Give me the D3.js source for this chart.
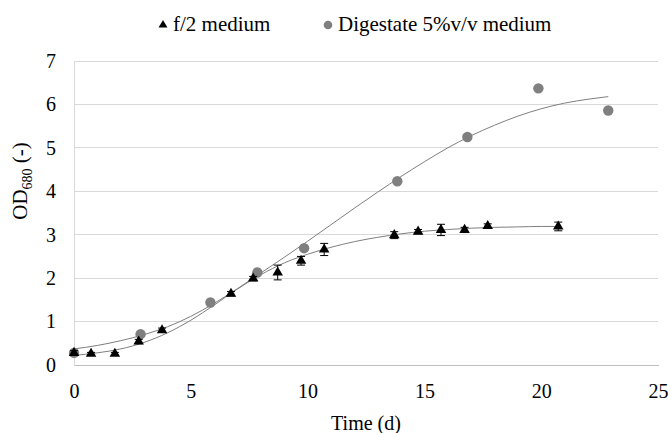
<!DOCTYPE html>
<html>
<head>
<meta charset="utf-8">
<script src="https://cdn.jsdelivr.net/npm/d3@7"></script>
<style>
  html, body { margin: 0; padding: 0; background: #fff; }
</style>
</head>
<body>
<svg id="chart" width="669" height="433"></svg>
<script>
// Growth of the culture in the two media (optical density at 680 nm)
const f2Days    = [0, 0.73, 1.75, 2.77, 3.77, 6.72, 7.67, 8.72, 9.72, 10.71, 13.71, 14.73, 15.71, 16.72, 17.71, 20.73];
const f2OD      = [0.28, 0.26, 0.26, 0.54, 0.80, 1.64, 1.99, 2.13, 2.40, 2.66, 2.99, 3.07, 3.11, 3.11, 3.20, 3.19];
const f2Err     = [0.05, 0.03, 0.03, 0.05, 0.05, 0.05, 0.05, 0.17, 0.10, 0.14, 0.08, 0.05, 0.13, 0.06, 0.05, 0.10];

const digDays   = [0, 2.85, 5.84, 7.85, 9.85, 13.84, 16.84, 19.88, 22.87];
const digOD     = [0.28, 0.71, 1.44, 2.13, 2.69, 4.23, 5.25, 6.37, 5.86];

// Fitted growth curves (sampled)
const f2FitDays  = [0, 1, 2, 3, 4, 5, 6, 7, 8, 9, 10, 11, 12, 13, 14, 15, 16, 17, 18, 19, 20, 20.73];
const f2FitOD    = [0.22, 0.28, 0.37, 0.52, 0.74, 1.03, 1.38, 1.75, 2.08, 2.35, 2.55, 2.71, 2.84, 2.94, 3.02, 3.08, 3.12, 3.15, 3.17, 3.18, 3.19, 3.19];
const digFitDays = [0, 1, 2, 3, 4, 5, 6, 7, 8, 9, 10, 11, 12, 13, 14, 15, 16, 17, 18, 19, 20, 21, 22, 22.87];
const digFitOD   = [0.37, 0.45, 0.56, 0.70, 0.88, 1.12, 1.42, 1.76, 2.12, 2.48, 2.85, 3.23, 3.61, 3.98, 4.34, 4.68, 5.00, 5.28, 5.52, 5.73, 5.90, 6.03, 6.12, 6.18];

const xTicks = [0, 5, 10, 15, 20, 25];
const yTicks = [0, 1, 2, 3, 4, 5, 6, 7];
const legendLabels = ["f/2 medium", "Digestate 5%v/v medium"];

const FONT = '"Liberation Serif"';
const svg = d3.select("#chart");

const x = d3.scaleLinear().domain([0, 25]).range([74, 658]);
const y = d3.scaleLinear().domain([0, 7]).range([365, 61]);

// horizontal gridlines
svg.append("g").selectAll("line").data(yTicks.filter(d => d > 0)).join("line")
  .attr("x1", x(0)).attr("x2", x(25))
  .attr("y1", d => y(d)).attr("y2", d => y(d))
  .attr("stroke", "#d9d9d9").attr("stroke-width", 1).attr("shape-rendering", "crispEdges");

// axes
const gx = svg.append("g").attr("transform", `translate(0,${y(0)})`)
  .call(d3.axisBottom(x).tickValues(xTicks).tickSize(0).tickPadding(19).tickFormat(d3.format("d")));
gx.attr("font-family", null).attr("font-size", null);
gx.select(".domain").attr("stroke", "#bfbfbf").attr("shape-rendering", "crispEdges");
gx.selectAll("text").style("font-family", FONT).style("font-size", "20px").attr("fill", "#000");

const gy = svg.append("g").attr("transform", `translate(${x(0)},0)`)
  .call(d3.axisLeft(y).tickValues(yTicks).tickSize(0).tickPadding(18).tickFormat(d3.format("d")));
gy.attr("font-family", null).attr("font-size", null);
gy.select(".domain").attr("stroke", "#d9d9d9").attr("shape-rendering", "crispEdges");
gy.selectAll("text").style("font-family", FONT).style("font-size", "20px").attr("fill", "#000");

// axis titles
svg.append("text").attr("x", (x(0) + x(25)) / 2).attr("y", 430)
  .attr("text-anchor", "middle").style("font-family", FONT).style("font-size", "20px").text("Time (d)");

const yt = svg.append("text").attr("transform", "translate(27,181) rotate(-90)")
  .attr("text-anchor", "middle").style("font-family", FONT).style("font-size", "21px");
yt.append("tspan").text("OD");
yt.append("tspan").style("font-size", "14px").attr("dy", 5).text("680");
yt.append("tspan").attr("dy", -5).text(" (-)");

// fitted curves
const line = d3.line().x(d => x(d[0])).y(d => y(d[1])).curve(d3.curveMonotoneX);
svg.append("path").datum(d3.zip(f2FitDays, f2FitOD)).attr("d", line)
  .attr("fill", "none").attr("stroke", "#7f7f7f").attr("stroke-width", 1);
svg.append("path").datum(d3.zip(digFitDays, digFitOD)).attr("d", line)
  .attr("fill", "none").attr("stroke", "#7f7f7f").attr("stroke-width", 1);

// digestate points
svg.append("g").selectAll("circle").data(d3.zip(digDays, digOD)).join("circle")
  .attr("cx", d => x(d[0])).attr("cy", d => y(d[1])).attr("r", 5.2)
  .attr("fill", "#7f7f7f");

// f/2 error bars
const f2Data = f2Days.map((d, i) => ({ t: d, v: f2OD[i], e: f2Err[i] }));
const eb = svg.append("g").attr("stroke", "#000").attr("stroke-width", 1);
eb.selectAll("line.v").data(f2Data).join("line").attr("class", "v")
  .attr("x1", d => x(d.t)).attr("x2", d => x(d.t))
  .attr("y1", d => y(d.v - d.e)).attr("y2", d => y(d.v + d.e));
eb.selectAll("line.top").data(f2Data).join("line").attr("class", "top")
  .attr("x1", d => x(d.t) - 4).attr("x2", d => x(d.t) + 4)
  .attr("y1", d => y(d.v + d.e)).attr("y2", d => y(d.v + d.e));
eb.selectAll("line.bot").data(f2Data).join("line").attr("class", "bot")
  .attr("x1", d => x(d.t) - 4).attr("x2", d => x(d.t) + 4)
  .attr("y1", d => y(d.v - d.e)).attr("y2", d => y(d.v - d.e));

// f/2 triangles
const tri = d3.symbol().type(d3.symbolTriangle).size(48);
svg.append("g").selectAll("path").data(f2Data).join("path")
  .attr("transform", d => `translate(${x(d.t)},${y(d.v)})`)
  .attr("d", tri).attr("fill", "#000");

// legend
const lg = svg.append("g");
lg.append("path").attr("transform", "translate(163,25)").attr("d", d3.symbol().type(d3.symbolTriangle).size(34)).attr("fill", "#000");
lg.append("text").attr("x", 173).attr("y", 31).style("font-family", FONT).style("font-size", "21px").text(legendLabels[0]);
lg.append("circle").attr("cx", 328).attr("cy", 25).attr("r", 4.3).attr("fill", "#7f7f7f");
lg.append("text").attr("x", 338).attr("y", 31).style("font-family", FONT).style("font-size", "21px").text(legendLabels[1]);
</script>
</body>
</html>
